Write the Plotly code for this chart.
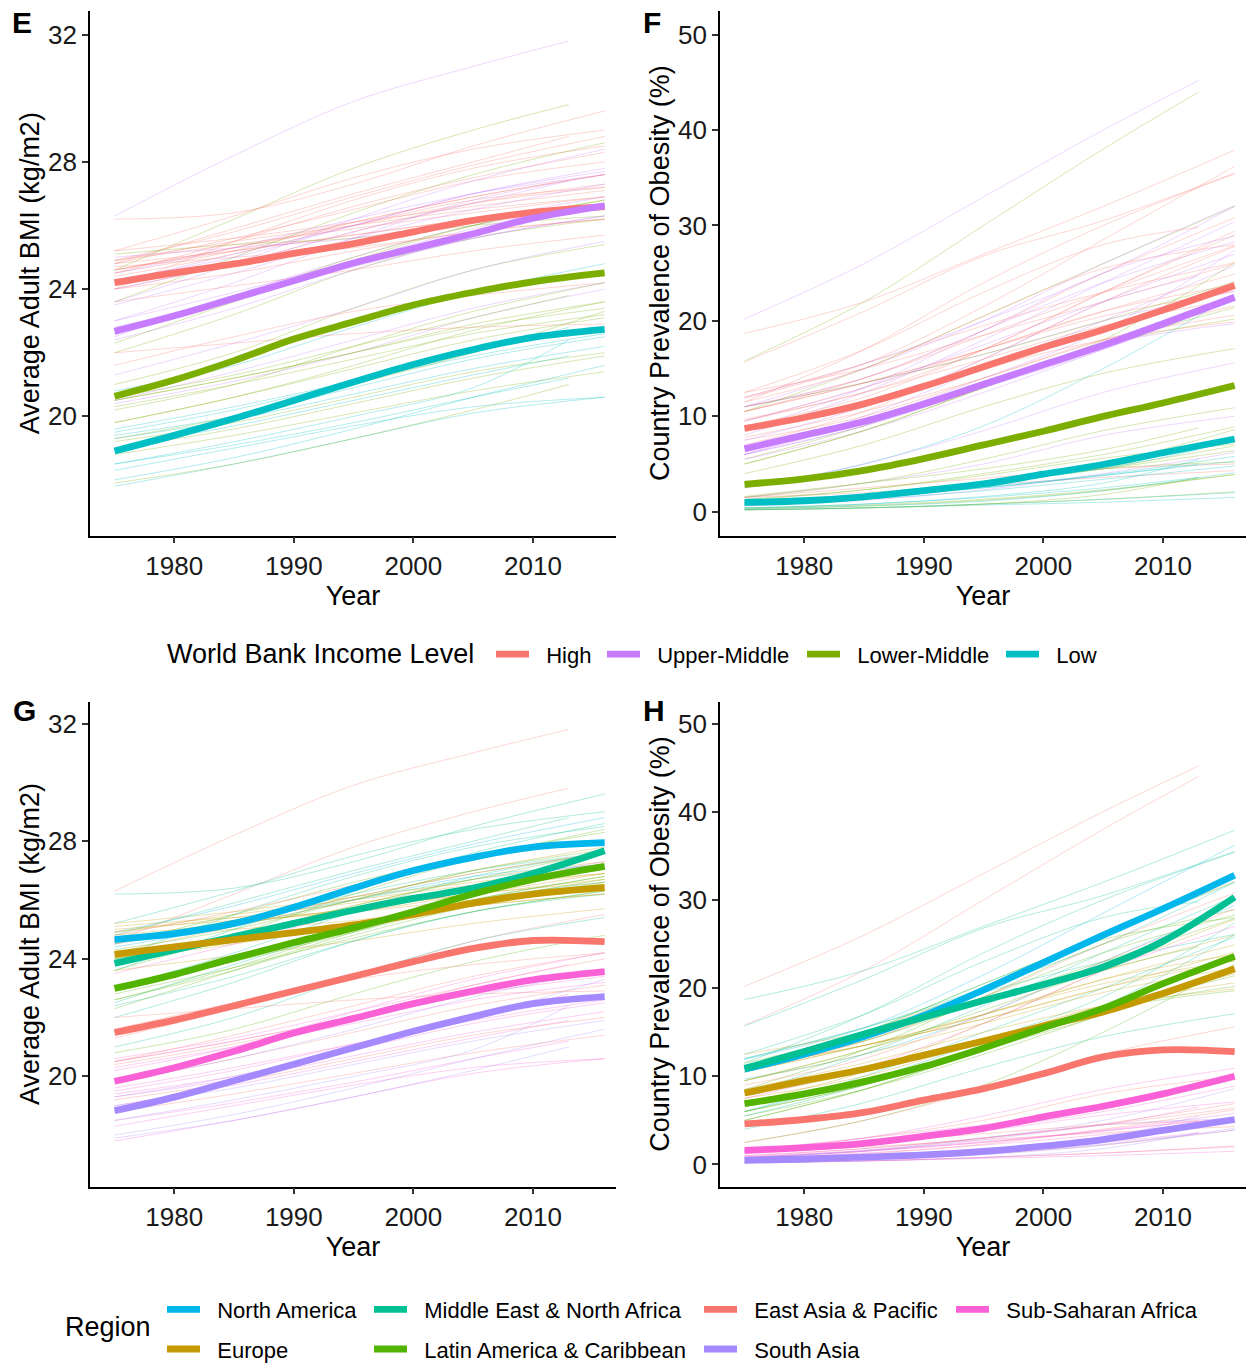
import plotly.graph_objects as go

# ---------------- data ----------------
YEARS_SMOOTH = [1975, 1980, 1985, 1990, 1995, 2000, 2005, 2010, 2016]

INCOME_LEVELS = ["High", "Upper-Middle", "Lower-Middle", "Low"]
INCOME_COLORS = ["#F8766D", "#C77CFF", "#7CAE00", "#00BFC4"]
income_bmi = {
    "High":         [24.20, 24.51, 24.79, 25.12, 25.43, 25.80, 26.16, 26.41, 26.59],
    "Upper-Middle": [22.67, 23.16, 23.71, 24.26, 24.82, 25.28, 25.74, 26.23, 26.62],
    "Lower-Middle": [20.63, 21.14, 21.75, 22.43, 22.97, 23.50, 23.90, 24.23, 24.51],
    "Low":          [18.91, 19.40, 19.93, 20.50, 21.08, 21.63, 22.10, 22.48, 22.73],
}
income_obesity = {
    "High":         [8.72, 9.87, 11.30, 13.14, 15.19, 17.24, 19.08, 21.13, 23.71],
    "Upper-Middle": [6.59, 8.03, 9.46, 11.30, 13.35, 15.40, 17.44, 19.70, 22.48],
    "Lower-Middle": [2.87, 3.44, 4.34, 5.57, 7.00, 8.44, 9.99, 11.40, 13.23],
    "Low":          [0.98, 1.15, 1.56, 2.21, 2.91, 3.93, 4.95, 6.18, 7.62],
}

REGIONS = ["North America", "Middle East & North Africa", "East Asia & Pacific",
           "Sub-Saharan Africa", "Europe", "Latin America & Caribbean", "South Asia"]
REGION_COLORS = ["#00B6EB", "#00C094", "#F8766D", "#FB61D7", "#C49A00", "#53B400", "#A58AFF"]
region_bmi = {
    "North America":              [24.65, 24.85, 25.20, 25.75, 26.40, 27.00, 27.45, 27.80, 27.95],
    "Middle East & North Africa": [23.84, 24.30, 24.75, 25.20, 25.65, 26.05, 26.40, 26.90, 27.67],
    "East Asia & Pacific":        [21.49, 21.91, 22.40, 22.90, 23.40, 23.90, 24.35, 24.62, 24.58],
    "Sub-Saharan Africa":         [19.83, 20.29, 20.85, 21.47, 21.97, 22.47, 22.90, 23.28, 23.56],
    "Europe":                     [24.15, 24.40, 24.65, 24.89, 25.15, 25.50, 25.89, 26.20, 26.43],
    "Latin America & Caribbean":  [22.99, 23.46, 24.02, 24.55, 25.05, 25.60, 26.20, 26.70, 27.14],
    "South Asia":                 [18.83, 19.29, 19.85, 20.41, 20.97, 21.53, 22.03, 22.47, 22.71],
}
region_obesity = {
    "North America":              [10.8, 12.5, 14.5, 16.9, 19.8, 22.9, 26.0, 29.0, 32.8],
    "Middle East & North Africa": [10.9, 12.8, 14.8, 16.7, 18.6, 20.4, 22.4, 25.3, 30.3],
    "East Asia & Pacific":        [4.6, 5.1, 5.9, 7.3, 8.6, 10.3, 12.2, 13.0, 12.8],
    "Sub-Saharan Africa":         [1.6, 1.9, 2.4, 3.2, 4.1, 5.4, 6.6, 8.0, 10.0],
    "Europe":                     [8.1, 9.5, 10.8, 12.4, 14.0, 15.7, 17.3, 19.4, 22.2],
    "Latin America & Caribbean":  [6.9, 8.0, 9.4, 11.1, 13.2, 15.5, 17.7, 20.5, 23.6],
    "South Asia":                 [0.46, 0.62, 0.83, 1.08, 1.49, 2.07, 2.82, 3.86, 5.10],
}

# thin country lines, values at 1975, 1985, 1995, 2005 and the last year
country_names = [
    "Tonga", "Samoa", "Kuwait", "Qatar", "Saudi Arabia", "United States", "Canada",
    "Egypt", "Iran", "Morocco", "Lebanon", "Israel", "Bahrain", "Yemen", "Iraq", "Algeria",
    "Germany", "United Kingdom", "France", "Italy", "Spain", "Sweden", "Poland",
    "Russia", "Turkey", "Ukraine", "Greece", "Czech Republic",
    "Mexico", "Brazil", "Argentina", "Chile", "Peru", "Colombia", "Bolivia",
    "Honduras", "Haiti", "Uruguay", "Jamaica",
    "Japan", "Australia", "China", "Vietnam", "Indonesia", "Philippines", "Korea",
    "Cambodia", "Thailand", "Malaysia", "New Zealand",
    "Nigeria", "South Africa", "Kenya", "Ethiopia", "Niger", "Madagascar", "Ghana",
    "Senegal", "Mali", "Uganda", "Chad", "Burundi", "Rwanda",
    "India", "Bangladesh", "Pakistan", "Nepal", "Afghanistan", "Sri Lanka",
]
country_income = [
    "Upper-Middle", "Lower-Middle", "High", "High", "High", "High", "High",
    "Lower-Middle", "Upper-Middle", "Lower-Middle", "Upper-Middle", "High", "High", "Lower-Middle", "Upper-Middle", "Upper-Middle",
    "High", "High", "High", "High", "High", "High", "High",
    "Upper-Middle", "Upper-Middle", "Lower-Middle", "High", "High",
    "Upper-Middle", "Upper-Middle", "Upper-Middle", "High", "Upper-Middle", "Upper-Middle", "Lower-Middle",
    "Lower-Middle", "Low", "High", "Upper-Middle",
    "High", "High", "Upper-Middle", "Lower-Middle", "Lower-Middle", "Lower-Middle", "High",
    "Lower-Middle", "Upper-Middle", "Upper-Middle", "High",
    "Lower-Middle", "Upper-Middle", "Lower-Middle", "Low", "Low", "Low", "Lower-Middle",
    "Lower-Middle", "Low", "Low", "Low", "Low", "Low",
    "Lower-Middle", "Lower-Middle", "Lower-Middle", "Low", "Low", "Lower-Middle",
]
country_region = [
    "East Asia & Pacific", "East Asia & Pacific", "Middle East & North Africa", "Middle East & North Africa",
    "Middle East & North Africa", "North America", "North America",
    "Middle East & North Africa", "Middle East & North Africa", "Middle East & North Africa",
    "Middle East & North Africa", "Middle East & North Africa", "Middle East & North Africa",
    "Middle East & North Africa", "Middle East & North Africa", "Middle East & North Africa",
    "Europe", "Europe", "Europe", "Europe", "Europe", "Europe", "Europe",
    "Europe", "Europe", "Europe", "Europe", "Europe",
    "Latin America & Caribbean", "Latin America & Caribbean", "Latin America & Caribbean",
    "Latin America & Caribbean", "Latin America & Caribbean", "Latin America & Caribbean",
    "Latin America & Caribbean", "Latin America & Caribbean", "Latin America & Caribbean",
    "Latin America & Caribbean", "Latin America & Caribbean",
    "East Asia & Pacific", "East Asia & Pacific", "East Asia & Pacific", "East Asia & Pacific",
    "East Asia & Pacific", "East Asia & Pacific", "East Asia & Pacific", "East Asia & Pacific",
    "East Asia & Pacific", "East Asia & Pacific", "East Asia & Pacific",
    "Sub-Saharan Africa", "Sub-Saharan Africa", "Sub-Saharan Africa", "Sub-Saharan Africa",
    "Sub-Saharan Africa", "Sub-Saharan Africa", "Sub-Saharan Africa", "Sub-Saharan Africa",
    "Sub-Saharan Africa", "Sub-Saharan Africa", "Sub-Saharan Africa", "Sub-Saharan Africa",
    "Sub-Saharan Africa",
    "South Asia", "South Asia", "South Asia", "South Asia", "South Asia", "South Asia",
]
country_end_year = [
    2013, 2013, 2016, 2016, 2016, 2016, 2016,
    2016, 2016, 2016, 2016, 2016, 2013, 2016, 2016, 2016,
    2016, 2016, 2016, 2016, 2016, 2016, 2016,
    2016, 2016, 2016, 2016, 2016,
    2016, 2016, 2016, 2016, 2016, 2016, 2016,
    2016, 2016, 2016, 2013,
    2016, 2016, 2016, 2016, 2016, 2016, 2016,
    2016, 2016, 2016, 2016,
    2016, 2016, 2016, 2016, 2013, 2013, 2016,
    2013, 2013, 2016, 2016, 2016, 2016,
    2016, 2013, 2016, 2016, 2013, 2016,
]
country_bmi = [
    [26.3, 28.2, 29.9, 31.0, 31.8], [24.6, 26.2, 27.8, 29.0, 29.8], [26.2, 26.4, 27.3, 28.5, 29.6],
    [25.2, 26.3, 27.5, 28.4, 29.0], [24.0, 25.5, 26.8, 27.8, 28.5], [24.9, 25.8, 26.9, 27.9, 28.8],
    [24.4, 25.1, 26.0, 26.8, 27.2],
    [23.6, 25.0, 26.4, 27.6, 28.6], [22.5, 23.8, 25.0, 26.0, 26.6], [22.0, 23.2, 24.6, 25.6, 26.2],
    [24.5, 25.3, 26.2, 27.0, 27.6], [24.6, 25.3, 26.0, 26.7, 27.2], [24.8, 25.9, 27.0, 28.0, 28.8],
    [21.0, 22.0, 23.4, 24.6, 25.4], [23.0, 24.2, 25.6, 26.8, 27.6], [22.4, 23.4, 24.6, 25.6, 26.3],
    [24.6, 25.2, 25.7, 26.2, 26.6], [24.0, 24.8, 25.8, 26.7, 27.3], [23.6, 24.1, 24.6, 25.2, 25.7],
    [24.7, 25.0, 25.3, 25.8, 26.2], [24.9, 25.4, 25.9, 26.4, 26.9], [24.0, 24.5, 25.2, 25.8, 26.2],
    [24.8, 25.2, 25.7, 26.2, 26.7],
    [25.0, 25.3, 25.6, 26.2, 26.9], [24.2, 25.1, 26.0, 27.0, 27.8], [25.1, 25.4, 25.6, 26.0, 26.3],
    [24.9, 25.5, 26.0, 26.5, 26.9], [25.2, 25.6, 26.1, 26.6, 27.1],
    [23.6, 24.8, 26.2, 27.4, 28.4], [22.6, 23.6, 24.8, 25.8, 26.6], [24.3, 25.0, 26.0, 27.0, 27.7],
    [24.5, 25.5, 26.6, 27.5, 28.3], [23.0, 23.9, 24.9, 25.9, 26.7], [22.8, 23.7, 24.7, 25.6, 26.3],
    [22.6, 23.7, 25.0, 26.0, 26.8],
    [22.3, 23.6, 24.9, 26.0, 26.8], [20.8, 21.6, 22.8, 23.9, 24.8], [24.6, 25.3, 26.1, 26.9, 27.6],
    [24.0, 24.8, 25.8, 26.7, 27.4],
    [22.0, 22.3, 22.6, 22.8, 22.9], [24.5, 25.2, 26.1, 26.9, 27.6], [20.4, 21.1, 22.0, 23.1, 24.0],
    [18.8, 19.4, 20.1, 20.8, 21.4], [19.8, 20.6, 21.5, 22.4, 23.1], [20.5, 21.2, 22.0, 22.9, 23.6],
    [21.6, 22.5, 23.3, 23.8, 24.2],
    [19.2, 19.8, 20.6, 21.4, 22.0], [20.5, 21.4, 22.4, 23.4, 24.2], [21.3, 22.3, 23.4, 24.6, 25.5],
    [24.8, 25.6, 26.5, 27.4, 28.0],
    [20.5, 21.2, 22.0, 22.8, 23.4], [23.5, 24.5, 25.6, 26.5, 27.3], [20.3, 21.0, 21.8, 22.6, 23.2],
    [17.8, 18.5, 19.3, 20.1, 20.6], [19.0, 19.7, 20.5, 21.3, 21.9], [18.5, 19.1, 19.8, 20.6, 21.2],
    [20.2, 21.0, 22.2, 23.3, 24.2],
    [20.6, 21.3, 22.2, 23.1, 23.8], [19.5, 20.2, 21.1, 22.0, 22.8], [19.4, 20.0, 20.9, 21.8, 22.5],
    [19.3, 19.9, 20.7, 21.5, 22.2], [18.3, 19.0, 19.7, 20.3, 20.6], [19.6, 20.3, 21.1, 21.9, 22.6],
    [19.0, 19.6, 20.4, 21.2, 21.9], [17.9, 18.5, 19.3, 20.2, 21.0], [19.8, 20.6, 21.6, 22.7, 23.6],
    [18.0, 18.7, 19.6, 20.6, 21.6], [18.5, 19.2, 20.0, 20.9, 22.4], [19.3, 20.0, 21.0, 22.0, 23.3],
]
country_obesity = [
    [20.2, 26.0, 33.0, 40.0, 45.2], [15.8, 22.0, 30.0, 38.0, 44.0], [18.7, 22.0, 27.0, 32.0, 37.9],
    [15.7, 21.0, 26.8, 30.5, 35.5], [11.5, 17.0, 24.0, 30.0, 35.4], [11.9, 15.5, 21.5, 28.5, 36.2],
    [9.7, 12.5, 17.0, 23.0, 29.4],
    [10.5, 15.0, 20.5, 26.0, 32.0], [6.0, 10.0, 15.0, 20.0, 25.8], [5.5, 9.0, 13.5, 18.0, 26.1],
    [12.0, 15.5, 20.0, 25.0, 32.0], [12.0, 15.5, 19.5, 23.0, 26.1], [12.5, 17.0, 23.0, 28.0, 29.8],
    [4.0, 7.0, 11.0, 14.5, 17.1], [8.0, 12.5, 18.0, 24.0, 30.4], [6.0, 9.5, 14.0, 19.0, 27.4],
    [9.5, 12.5, 16.0, 19.5, 22.3], [7.0, 10.5, 16.0, 22.0, 27.8], [7.8, 10.5, 14.0, 18.0, 21.6],
    [8.5, 11.5, 15.0, 18.0, 19.9], [9.5, 13.0, 17.0, 21.0, 23.8], [7.5, 10.0, 14.0, 18.0, 20.6],
    [10.5, 13.5, 17.0, 20.5, 23.1],
    [11.0, 13.5, 16.5, 20.0, 23.1], [11.0, 15.0, 20.0, 26.0, 32.1], [11.0, 13.5, 16.5, 20.0, 24.1],
    [10.5, 13.5, 17.0, 21.0, 24.9], [12.5, 15.0, 18.5, 22.0, 26.0],
    [8.5, 13.0, 19.0, 25.0, 28.9], [5.5, 8.5, 12.5, 17.0, 22.1], [11.0, 14.0, 19.0, 24.0, 28.3],
    [11.5, 15.0, 20.5, 25.5, 28.0], [6.0, 9.0, 13.0, 17.5, 19.7], [6.0, 9.0, 13.0, 17.0, 22.3],
    [5.0, 8.5, 13.0, 17.5, 20.2],
    [5.0, 8.5, 13.0, 17.5, 21.4], [2.5, 5.0, 9.0, 15.0, 22.7], [11.0, 14.0, 18.5, 23.0, 27.9],
    [9.5, 13.0, 17.5, 22.0, 24.7],
    [1.5, 2.0, 2.8, 3.6, 4.3], [9.0, 12.0, 17.0, 23.0, 29.0], [0.6, 1.2, 2.3, 4.0, 6.2],
    [0.2, 0.4, 0.8, 1.3, 2.1], [0.8, 1.5, 3.0, 4.6, 6.9], [1.0, 1.8, 3.0, 4.5, 6.4],
    [1.5, 2.5, 3.5, 4.5, 5.0],
    [0.3, 0.6, 1.2, 2.2, 3.9], [1.5, 3.0, 5.0, 8.0, 10.0], [2.5, 5.0, 8.5, 12.5, 15.6],
    [10.5, 14.0, 19.0, 25.0, 30.8],
    [1.2, 2.3, 4.0, 6.0, 8.9], [7.5, 11.0, 16.0, 22.0, 27.0], [1.3, 2.3, 3.8, 5.6, 7.1],
    [0.2, 0.4, 0.8, 1.3, 2.0], [0.8, 1.5, 2.5, 3.8, 5.0], [0.4, 0.8, 1.5, 2.5, 3.6],
    [1.5, 3.0, 5.5, 8.5, 10.9],
    [1.6, 3.0, 4.5, 6.5, 8.8], [1.0, 1.8, 3.0, 4.5, 6.5], [0.8, 1.5, 2.5, 3.8, 5.3],
    [0.7, 1.3, 2.2, 3.4, 4.8], [0.2, 0.4, 0.7, 1.0, 1.5], [0.9, 1.6, 2.6, 3.9, 5.8],
    [0.4, 0.7, 1.3, 2.3, 3.9], [0.2, 0.4, 0.8, 1.8, 3.6], [0.8, 1.6, 3.0, 5.0, 8.6],
    [0.3, 0.6, 1.1, 2.2, 4.1], [0.4, 0.8, 1.6, 3.0, 5.5], [0.8, 1.5, 2.8, 4.5, 5.2],
]
COUNTRY_YEARS = [1975, 1985, 1995, 2005]

X_TICKS = [1980, 1990, 2000, 2010]
BMI_TICKS = [20, 24, 28, 32]
OBESITY_TICKS = [0, 10, 20, 30, 40, 50]

# ---------------- figure ----------------
FONT = "Liberation Sans, Arial, Helvetica, sans-serif"
W, H = 1249, 1371


def fx(px):
    return px / W


def fy(py):
    return 1 - py / H


def rgba(hex_color, a):
    h = hex_color.lstrip("#")
    r, g, b = int(h[0:2], 16), int(h[2:4], 16), int(h[4:6], 16)
    return f"rgba({r},{g},{b},{a})"


PAD = "\u00a0\u00a0"   # gap between legend key and label

fig = go.Figure()
THIN_ALPHA = 0.3

for i, name in enumerate(country_names):
    xs = COUNTRY_YEARS + [country_end_year[i]]
    c_inc = INCOME_COLORS[INCOME_LEVELS.index(country_income[i])]
    c_reg = REGION_COLORS[REGIONS.index(country_region[i])]
    for vals, col, xa, ya in [
        (country_bmi[i], c_inc, "x", "y"),
        (country_obesity[i], c_inc, "x2", "y2"),
        (country_bmi[i], c_reg, "x3", "y3"),
        (country_obesity[i], c_reg, "x4", "y4"),
    ]:
        fig.add_trace(go.Scatter(
            x=xs, y=vals, xaxis=xa, yaxis=ya, mode="lines", name=name,
            line=dict(color=rgba(col, THIN_ALPHA), width=1, shape="spline"),
            showlegend=False, hoverinfo="skip"))

THICK = 6.8
INCOME_LEGEND = {"High": "legend", "Upper-Middle": "legend6",
                 "Lower-Middle": "legend7", "Low": "legend8"}
for lvl, col in zip(INCOME_LEVELS, INCOME_COLORS):
    fig.add_trace(go.Scatter(
        x=YEARS_SMOOTH, y=income_bmi[lvl], xaxis="x", yaxis="y", mode="lines", name=PAD + lvl,
        line=dict(color=col, width=THICK, shape="spline"), legend=INCOME_LEGEND[lvl],
        legendgroup=lvl, showlegend=True))
    fig.add_trace(go.Scatter(
        x=YEARS_SMOOTH, y=income_obesity[lvl], xaxis="x2", yaxis="y2", mode="lines", name=PAD + lvl,
        line=dict(color=col, width=THICK, shape="spline"), legend=INCOME_LEGEND[lvl],
        legendgroup=lvl, showlegend=False))

REGION_LEGEND = {
    "North America": "legend2", "Europe": "legend2",
    "Middle East & North Africa": "legend3", "Latin America & Caribbean": "legend3",
    "East Asia & Pacific": "legend4", "South Asia": "legend4",
    "Sub-Saharan Africa": "legend5",
}
for reg, col in zip(REGIONS, REGION_COLORS):
    fig.add_trace(go.Scatter(
        x=YEARS_SMOOTH, y=region_bmi[reg], xaxis="x3", yaxis="y3", mode="lines", name=PAD + reg,
        line=dict(color=col, width=THICK, shape="spline"), legend=REGION_LEGEND[reg],
        legendgroup=reg, showlegend=True))
    fig.add_trace(go.Scatter(
        x=YEARS_SMOOTH, y=region_obesity[reg], xaxis="x4", yaxis="y4", mode="lines", name=PAD + reg,
        line=dict(color=col, width=THICK, shape="spline"), legend=REGION_LEGEND[reg],
        legendgroup=reg, showlegend=False))

X_RANGE = [1972.95, 2016.95]
axis_common = dict(
    showline=True, linecolor="black", linewidth=1.8, mirror=False,
    ticks="outside", ticklen=6, tickwidth=1.5, tickcolor="#333333",
    showgrid=False, zeroline=False, automargin=False,
    tickfont=dict(family=FONT, size=26, color="#1a1a1a"),
)
title_font = dict(family=FONT, size=27, color="black")

LEFT_X = [fx(90), fx(616)]
RIGHT_X = [fx(720), fx(1246)]
TOP_Y = [fy(540.3), fy(10.9)]
BOT_Y = [fy(1197), fy(707.7)]

xaxes = {
    "xaxis": dict(domain=LEFT_X, anchor="y"),
    "xaxis2": dict(domain=RIGHT_X, anchor="y2"),
    "xaxis3": dict(domain=LEFT_X, anchor="y3"),
    "xaxis4": dict(domain=RIGHT_X, anchor="y4"),
}
for k, v in xaxes.items():
    v.update(axis_common)
    v.update(range=X_RANGE, tickvals=X_TICKS,
             title=dict(text="Year", font=title_font, standoff=6))
    fig.layout[k] = v

yaxes = {
    "yaxis": dict(domain=TOP_Y, anchor="x", range=[16.25, 32.75],
                  tickvals=BMI_TICKS, title_text="Average Adult BMI (kg/m2)"),
    "yaxis2": dict(domain=TOP_Y, anchor="x2", range=[-2.5, 52.5],
                   tickvals=OBESITY_TICKS, title_text="Country Prevalence of Obesity (%)"),
    "yaxis3": dict(domain=BOT_Y, anchor="x3", range=[16.25, 32.75],
                   tickvals=BMI_TICKS, title_text="Average Adult BMI (kg/m2)"),
    "yaxis4": dict(domain=BOT_Y, anchor="x4", range=[-2.5, 52.5],
                   tickvals=OBESITY_TICKS, title_text="Country Prevalence of Obesity (%)"),
}
for k, v in yaxes.items():
    v.update(axis_common)
    v["title_font"] = title_font
    v["title_standoff"] = 1
    fig.layout[k] = v

legend_font = dict(family=FONT, size=22, color="black")
fig.update_layout(
    width=W, height=H,
    margin=dict(l=0, r=0, t=0, b=0),
    paper_bgcolor="white", plot_bgcolor="white",
    font=dict(family=FONT, color="black"),
)
# legend keys start 6px right of the legend origin; item centre ~22px below legend top
income_legend_x = {"legend": 491, "legend6": 602, "legend7": 802, "legend8": 1001}
for lg, xpx in income_legend_x.items():
    fig.layout[lg] = dict(orientation="v", x=fx(xpx), xanchor="left",
                          y=fy(639), yanchor="top", font=legend_font, itemwidth=33,
                          bgcolor="rgba(0,0,0,0)")
region_legend_x = {"legend2": 162, "legend3": 369, "legend4": 699, "legend5": 951}
for lg, xpx in region_legend_x.items():
    fig.layout[lg] = dict(orientation="v", x=fx(xpx), xanchor="left",
                          y=fy(1300), yanchor="top", font=legend_font, itemwidth=33,
                          tracegroupgap=8, bgcolor="rgba(0,0,0,0)")

annotations = [
    dict(text="<b>E</b>", x=fx(22), y=fy(23)),
    dict(text="<b>F</b>", x=fx(652), y=fy(23)),
    dict(text="<b>G</b>", x=fx(24), y=fy(717)),
    dict(text="<b>H</b>", x=fx(654), y=fy(717)),
]
for a in annotations:
    a.update(xref="paper", yref="paper", showarrow=False, xanchor="center", yanchor="middle",
             font=dict(family=FONT, size=30, color="black"))
annotations.append(dict(text="World Bank Income Level", x=fx(165), y=fy(660),
                        xref="paper", yref="paper", showarrow=False,
                        xanchor="left", yanchor="middle",
                        font=dict(family=FONT, size=27, color="black")))
annotations.append(dict(text="Region", x=fx(63), y=fy(1339), xref="paper", yref="paper",
                        showarrow=False, xanchor="left", yanchor="middle",
                        font=dict(family=FONT, size=27, color="black")))
fig.update_layout(annotations=annotations)

# remove the browser's default 8px body margin so the figure fills the page exactly
fig.write_html("out.html",
               config={"displayModeBar": False},
               post_script="document.body.style.margin='0';document.body.style.overflow='hidden';")
